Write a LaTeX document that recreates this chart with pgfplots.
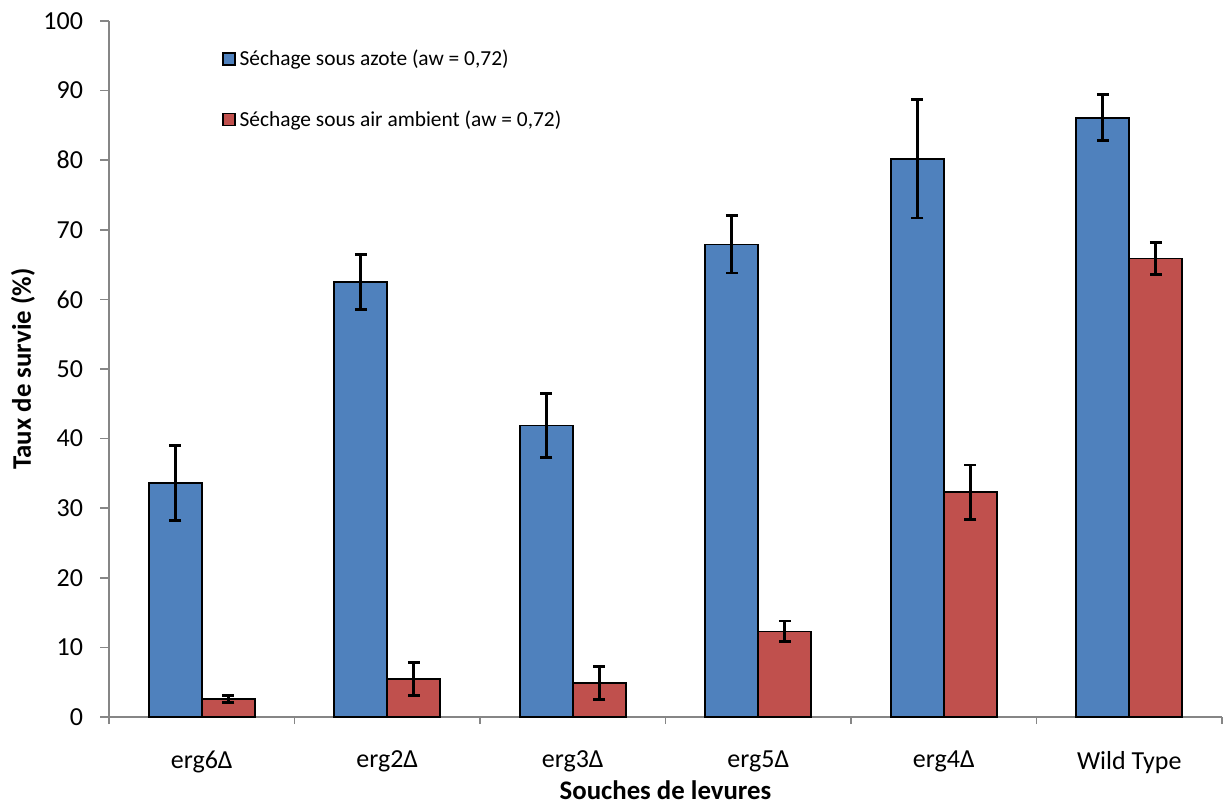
\documentclass[border=0pt]{standalone}
\usepackage{pgfplots}
\pgfplotsset{compat=1.18}
\usepackage{fontspec}
\setmainfont{Carlito}
\definecolor{cblue}{HTML}{4F81BD}
\definecolor{cred}{HTML}{C0504D}
\definecolor{axgray}{HTML}{868686}
\begin{document}
\begin{tikzpicture}
\begin{axis}[
  name=ax,
  scale only axis,
  width=556.5pt, height=348pt,
  ymin=0, ymax=100, ytick={0,10,...,100},
  xmin=-0.5, xmax=5.5,
  xtick={0,1,2,3,4,5},
  xticklabels={erg6Δ,erg2Δ,erg3Δ,erg5Δ,erg4Δ,Wild Type},
  minor xtick={-0.5,0.5,1.5,2.5,3.5,4.5,5.5},
  axis x line*=bottom, axis y line*=left,
  axis line style={axgray, line width=0.8pt},
  tick style={axgray, line width=0.8pt},
  tick align=outside,
  x tick style={draw=none},
  minor x tick style={draw=axgray},
  minor tick length=3.5pt,
  major tick length=4.5pt,
  /pgf/number format/assume math mode=true,
  tick label style={font=\fontsize{13}{15}\selectfont},
  xticklabel style={yshift=-9pt},
  yticklabel style={xshift=-5pt},
  xlabel={\textbf{Souches de levures}},
  ylabel={\textbf{Taux de survie (\%)}},
  label style={font=\fontsize{13.4}{15}\selectfont},
  xlabel style={at={(axis description cs:0.5,0)}, anchor=center, inner sep=0pt, yshift=-36.8pt},
  ylabel style={at={(axis description cs:0,0.5)}, anchor=center, rotate=0, yshift=43pt},
  ybar=0pt, bar width=26.5pt,
  legend style={at={(0.1015,0.965)}, anchor=north west, draw=none, fill=none,
    font=\fontsize{10.7}{12.5}\selectfont, row sep=17pt, inner sep=0pt,
    /tikz/every even column/.append style={column sep=2pt}},
  legend cell align=left,
  legend image code/.code={\draw[#1, draw=black, line width=0.6pt] (0pt,-3pt) rectangle (6pt,3pt);},
  clip=false,
]
\addplot[fill=cblue, draw=black, line width=0.8pt,
  error bars/.cd, y dir=both, y explicit,
  error bar style={line width=1.4pt, black},
  error mark options={rotate=90, mark size=3pt, line width=1.4pt, black}]
  coordinates {
  (0,33.6) +- (0,5.4)
  (1,62.5) +- (0,3.9)
  (2,41.9) +- (0,4.6)
  (3,67.9) +- (0,4.1)
  (4,80.2) +- (0,8.5)
  (5,86.1) +- (0,3.3)
  };
\addplot[fill=cred, draw=black, line width=0.8pt,
  error bars/.cd, y dir=both, y explicit,
  error bar style={line width=1.4pt, black},
  error mark options={rotate=90, mark size=3pt, line width=1.4pt, black}]
  coordinates {
  (0,2.6) +- (0,0.5)
  (1,5.45) +- (0,2.4)
  (2,4.9) +- (0,2.4)
  (3,12.3) +- (0,1.5)
  (4,32.3) +- (0,3.9)
  (5,65.9) +- (0,2.3)
  };
\legend{Séchage sous azote (aw = 0{,}72),Séchage sous air ambient (aw = 0{,}72)}
\end{axis}
\pgfresetboundingbox
\path (ax.south west) ++(-54.5pt,-45pt) coordinate (bl);
\path (ax.north east) ++(0.5pt,10.5pt) coordinate (tr);
\path[use as bounding box] (bl) rectangle (tr);
\end{tikzpicture}
\end{document}
